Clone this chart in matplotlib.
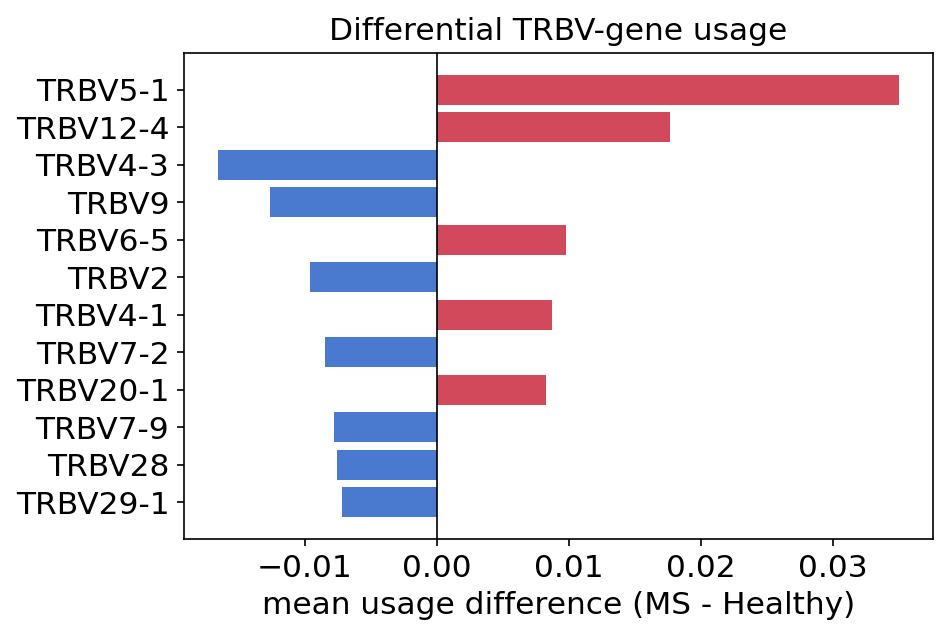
import numpy as np
import matplotlib
matplotlib.use('Agg')
import matplotlib.pyplot as plt

genes = ['TRBV5-1', 'TRBV12-4', 'TRBV4-3', 'TRBV9', 'TRBV6-5', 'TRBV2',
         'TRBV4-1', 'TRBV7-2', 'TRBV20-1', 'TRBV7-9', 'TRBV28', 'TRBV29-1']
diffs = [0.0350, 0.01765, -0.01659, -0.01265, 0.00977, -0.00962,
         0.00871, -0.00848, 0.00826, -0.0078, -0.00758, -0.0072]

plt.rcParams['font.size'] = 15

fig, ax = plt.subplots(figsize=(6.32, 4.28), dpi=150)
colors = ['#d3495c' if d > 0 else '#4a7ad0' for d in diffs]
y = np.arange(len(genes))
ax.barh(y, diffs, color=colors)
ax.set_yticks(y)
ax.set_yticklabels(genes)
ax.invert_yaxis()
ax.axvline(0, color='black', linewidth=0.8)
ax.set_xlabel('mean usage difference (MS - Healthy)')
ax.set_title('Differential TRBV-gene usage', fontsize=15)
fig.subplots_adjust(left=0.194, right=0.984, top=0.918, bottom=0.16)
fig.savefig('out.png', dpi=150)
